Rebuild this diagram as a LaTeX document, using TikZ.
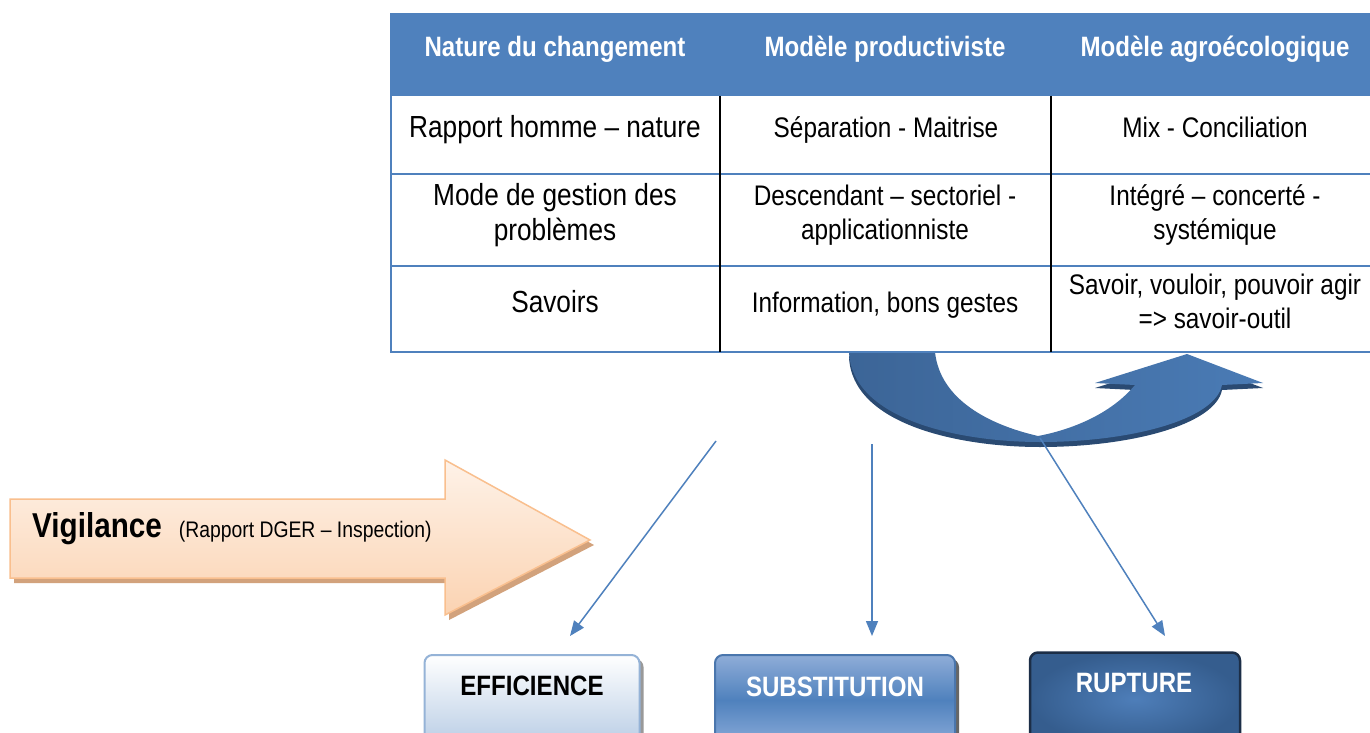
\documentclass[tikz,border=0pt]{standalone}
\usepackage{fontspec}
\setmainfont{Liberation Sans}[FakeStretch=0.86]
\usetikzlibrary{arrows.meta}
\definecolor{hdrblue}{HTML}{4F81BD}
\definecolor{ublue}{HTML}{3C6597}
\definecolor{ubluel}{HTML}{4A7BB5}
\definecolor{udark}{HTML}{2A4A72}
\definecolor{peachtop}{HTML}{FEF2E8}
\definecolor{peachbot}{HTML}{FBD3B2}
\definecolor{peachline}{HTML}{F9BF8E}
\definecolor{peachshadow}{HTML}{D2A27C}
\definecolor{effline}{HTML}{95B3D7}
\definecolor{effbot}{HTML}{B9CDE5}
\definecolor{subtop}{HTML}{8FADD8}
\definecolor{subbot}{HTML}{8AABD9}
\definecolor{subline}{HTML}{4A76AD}
\definecolor{rupin}{HTML}{4E7EB9}
\definecolor{rupout}{HTML}{355D8E}
\definecolor{rupline}{HTML}{1C2E47}
\tikzset{
  hdr/.style={text=white, anchor=base, font=\fontsize{28}{32}\selectfont\bfseries},
  cellA/.style={text=black, align=center, font=\fontsize{30.5}{35}\selectfont},
  cellB/.style={text=black, align=center, font=\fontsize{28.3}{34}\selectfont},
  tline/.style={hdrblue, line width=2.5pt},
  vline/.style={black, line width=1.6pt},
  conn/.style={hdrblue, line width=1.5pt, -{Triangle[length=15pt,width=12pt]}},
  boxtext/.style={font=\fontsize{28}{28}\selectfont\bfseries},
  effbox/.style={draw=effline, line width=2pt, rounded corners=8pt, top color=white, bottom color=effbot, minimum width=215pt, minimum height=90pt, inner sep=0pt},
  subbox/.style={draw=subline, line width=2pt, rounded corners=8pt, top color=subtop, bottom color=subbot, middle color=hdrblue, minimum width=240pt, minimum height=90pt, inner sep=0pt},
  rupbox/.style={draw=rupline, line width=2.5pt, rounded corners=8pt, inner color=rupin, outer color=rupout, minimum width=210pt, minimum height=93pt, inner sep=0pt},
  shadowbox/.style={fill=black!40, rounded corners=8pt, minimum height=90pt, inner sep=0pt}
}
\begin{document}
\begin{tikzpicture}[x=1pt,y=-1pt]
\clip (0,0) rectangle (1370,733);
\fill[white] (0,0) rectangle (1370,733);

% curved U arrow (shadow + body)
\fill[udark, shift={(0,5)}]
  (849,352) .. controls (852,420) and (960,442) .. (1040,442)
  .. controls (1130,442) and (1215,420) .. (1222,385)
  -- (1263,383) -- (1187,354) -- (1095,383) -- (1135,385)
  .. controls (1110,415) and (1070,430) .. (1038,436)
  .. controls (990,425) and (940,400) .. (935,352) -- cycle;
\shade[left color=ublue, right color=ubluel]
  (849,352) .. controls (852,420) and (960,442) .. (1040,442)
  .. controls (1130,442) and (1215,420) .. (1222,385)
  -- (1263,383) -- (1187,354) -- (1095,383) -- (1135,385)
  .. controls (1110,415) and (1070,430) .. (1038,436)
  .. controls (990,425) and (940,400) .. (935,352) -- cycle;

% table
\fill[hdrblue] (390,13) rectangle (1380,96);
\fill[white] (391,96) rectangle (1380,352);
\draw[tline] (391,96) -- (391,353);
\draw[tline] (390,174) -- (1380,174);
\draw[tline] (390,266) -- (1380,266);
\draw[tline] (390,352) -- (1380,352);
\draw[vline] (720,96) -- (720,352);
\draw[vline] (1051,96) -- (1051,352);

\node[hdr] (h1) at (555,57) {Nature du changement};
\node[hdr] (h2) at (885,57) {Modèle productiviste};
\node[hdr] (h3) at (1215,57) {Modèle agroécologique};

\node[cellA, anchor=base] (r11) at (555,137) {Rapport homme – nature};
\node[cellB, anchor=base] (r12) at (886,137) {Séparation - Maitrise};
\node[cellB, anchor=base] (r13) at (1215,137) {Mix - Conciliation};

\node[cellA] (r21) at (555,215) {Mode de gestion des\\problèmes};
\node[cellB] (r22) at (885,215) {Descendant – sectoriel -\\applicationniste};
\node[cellB] (r23) at (1215,215) {Intégré – concerté -\\systémique};

\node[cellA, anchor=base] (r31) at (555,312) {Savoirs};
\node[cellB, anchor=base] (r32) at (885,312) {Information, bons gestes};
\node[cellB] (r33) at (1215,301) {Savoir, vouloir, pouvoir agir\\=> savoir-outil};

% vigilance arrow
\fill[peachshadow, shift={(4,5)}]
  (10,499) -- (445,499) -- (445,460) -- (590,540) -- (445,615) -- (445,578) -- (10,578) -- cycle;
\shade[top color=peachtop, bottom color=peachbot, draw=peachline, line width=1.5pt]
  (10,499) -- (445,499) -- (445,460) -- (590,540) -- (445,615) -- (445,578) -- (10,578) -- cycle;
\node[anchor=base west, inner sep=0pt] (vig) at (32,537)
  {{\fontsize{34.5}{34.5}\selectfont\bfseries Vigilance}\hspace{17pt}{\fontsize{22.5}{22.5}\selectfont (Rapport DGER – Inspection)}};

% bottom boxes
\node[shadowbox, minimum width=215pt] at (536,704) {};
\node[effbox] (eff) at (532,700) {};
\node[boxtext, text=black] (efft) at (532,686) {EFFICIENCE};

\node[shadowbox, minimum width=240pt, fill=black!60] at (839,704) {};
\node[subbox] (sub) at (835,700) {};
\node[boxtext, text=white] (subt) at (835,687) {SUBSTITUTION};

\node[rupbox] (rup) at (1135,699) {};
\node[boxtext, text=white] (rupt) at (1134,683) {RUPTURE};

% connectors
\coordinate (s1) at (716,441);
\coordinate (e1) at (570,636);
\coordinate (s2) at (872,444);
\coordinate (e2) at (872,636);
\coordinate (s3) at (1040,438);
\coordinate (e3) at (1165,636);
\draw[conn] (s1) -- (e1);
\draw[conn] (s2) -- (e2);
\draw[conn] (s3) -- (e3);
\end{tikzpicture}
\end{document}
